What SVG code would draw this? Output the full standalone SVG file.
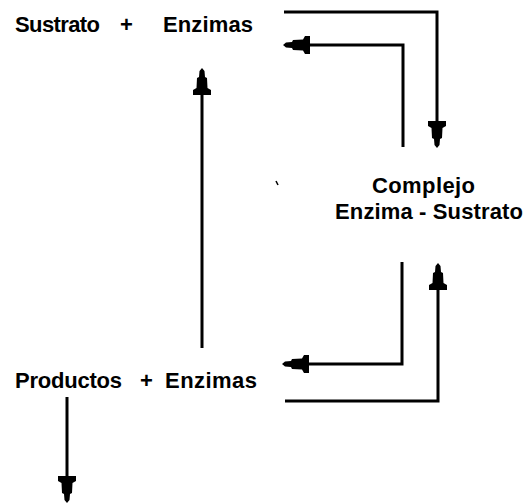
<svg xmlns="http://www.w3.org/2000/svg" width="526" height="504" viewBox="0 0 526 504">
  <style>
    .lbl { font-family: "Liberation Sans", Arial, sans-serif; font-weight: bold; font-size: 22px; fill: #000; }
    .conn { fill: none; stroke: #000; stroke-width: 3; stroke-linejoin: miter; }
  </style>
  <defs>
    <marker id="ah" markerUnits="userSpaceOnUse" viewBox="0 -10 28 20" refX="21" refY="0" markerWidth="28" markerHeight="20" orient="auto">
      <path d="M27,0 L24,-2.5 L18,-3 L17,-5 L7,-5.5 L5,-9 L0,-9 L0,9 L5,9 L7,5.5 L17,5 L18,3 L24,2.5 Z" fill="#000"/>
    </marker>
  </defs>
  <rect width="526" height="504" fill="#fff"/>
  <g id="sustrato-enzimas">
    <text class="lbl" y="32"><tspan x="15" textLength="85">Sustrato</tspan><tspan x="120">+</tspan><tspan x="163" textLength="90">Enzimas</tspan></text>
  </g>
  <g id="complejo">
    <text class="lbl" x="372" y="193" textLength="103">Complejo</text>
    <text class="lbl" x="335" y="219" textLength="188">Enzima - Sustrato</text>
  </g>
  <g id="productos-enzimas">
    <text class="lbl" y="388"><tspan x="15" textLength="107">Productos</tspan><tspan x="140">+</tspan><tspan x="165" textLength="92">Enzimas</tspan></text>
  </g>
  <g id="connectors">
    <path class="conn" d="M284,12 H437 V142" marker-end="url(#ah)"/>
    <path class="conn" d="M403,147 V45 H289" marker-end="url(#ah)"/>
    <path class="conn" d="M202,348 V74" marker-end="url(#ah)"/>
    <path class="conn" d="M402,262 V364 H288" marker-end="url(#ah)"/>
    <path class="conn" d="M285,401 H438 V269" marker-end="url(#ah)"/>
    <path class="conn" d="M67,397 V497" marker-end="url(#ah)"/>
  </g>
  <path d="M276,181 L278,185" stroke="#000" stroke-width="1.5"/>
</svg>
